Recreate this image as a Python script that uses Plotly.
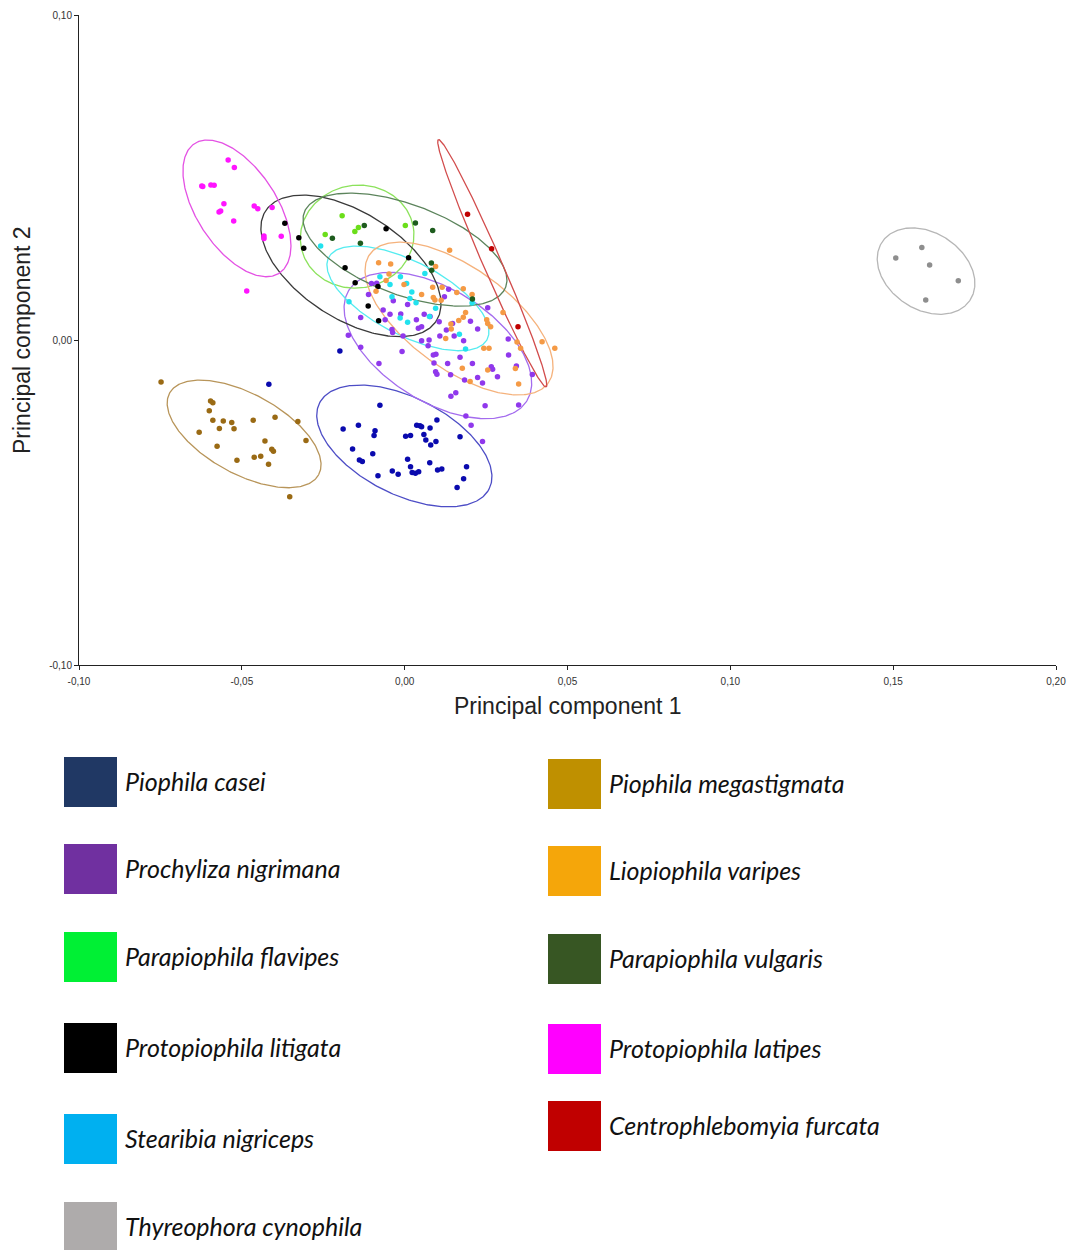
import numpy as np
import plotly.graph_objects as go

# ---------------- data (PC1, PC2 scores) ----------------
casei_x = [-0.0199,-0.0417,-0.0076,-0.0189,-0.0142,-0.0091,-0.0094,-0.0160,-0.0139,-0.0130,-0.0098,-0.0082,-0.0038,-0.0020,0.0003,0.0018,0.0009,0.0018,0.0023,0.0033,0.0043,0.0037,0.0047,0.0052,0.0059,0.0065,0.0080,0.0096,0.0078,0.0099,0.0077,0.0101,0.0114,0.0170,0.0190,0.0181,0.0161]
casei_y = [-0.0034,-0.0136,-0.0201,-0.0274,-0.0262,-0.0279,-0.0294,-0.0335,-0.0369,-0.0374,-0.0350,-0.0418,-0.0403,-0.0413,-0.0296,-0.0294,-0.0367,-0.0390,-0.0408,-0.0410,-0.0405,-0.0262,-0.0264,-0.0267,-0.0291,-0.0308,-0.0323,-0.0312,-0.0271,-0.0246,-0.0378,-0.0400,-0.0397,-0.0298,-0.0390,-0.0427,-0.0454]

prochyliza_x = [-0.0102,-0.0086,-0.0111,-0.0035,-0.0066,-0.0045,-0.0012,-0.0135,-0.0173,-0.0135,-0.0079,0.0009,0.0036,0.0060,-0.0060,-0.0039,-0.0037,-0.0005,-0.0008,0.0042,0.0052,0.0078,0.0106,0.0135,0.0122,0.0255,0.0147,0.0202,0.0224,0.0128,0.0108,0.0152,0.0181,0.0052,0.0075,0.0072,0.0096,0.0088,0.0090,0.0095,0.0099,0.0132,0.0170,0.0208,0.0141,0.0184,0.0224,0.0239,0.0266,0.0270,0.0285,0.0319,0.0343,0.0318,0.0392,0.0157,0.0142,0.0247,0.0188,0.0350,0.0204,0.0239]
prochyliza_y = [0.0174,0.0175,0.0140,0.0121,0.0092,0.0079,0.0080,0.0069,0.0015,-0.0022,-0.0072,0.0109,0.0062,0.0079,0.0062,0.0032,0.0023,0.0012,-0.0035,0.0036,0.0041,0.0072,0.0056,0.0156,0.0133,0.0099,0.0051,0.0058,0.0034,0.0031,0.0012,0.0012,-0.0002,-0.0002,0.0000,-0.0018,-0.0044,-0.0046,-0.0071,-0.0098,-0.0105,-0.0072,-0.0053,-0.0072,-0.0107,-0.0123,-0.0115,-0.0132,-0.0082,-0.0090,-0.0113,-0.0046,-0.0080,0.0003,-0.0106,-0.0162,-0.0173,-0.0202,-0.0234,-0.0200,-0.0262,-0.0312]

flavipes_x = [-0.0192,-0.0244,-0.0153,-0.0142,0.0002]
flavipes_y = [0.0382,0.0325,0.0334,0.0346,0.0352]

litigata_x = [-0.0368,-0.0325,-0.0310,-0.0057,-0.0183,0.0012,-0.0152,-0.0112,-0.0080,-0.0082]
litigata_y = [0.0359,0.0315,0.0282,0.0342,0.0222,0.0253,0.0176,0.0105,0.0059,0.0165]

stearibia_x = [-0.0258,-0.0076,-0.0013,0.0062,-0.0045,0.0006,0.0022,-0.0171,-0.0039,0.0016,0.0035,0.0095,0.0076,-0.0014,0.0009,0.0168,0.0187,0.0207]
stearibia_y = [0.0289,0.0195,0.0195,0.0205,0.0171,0.0174,0.0148,0.0118,0.0133,0.0128,0.0115,0.0098,0.0072,0.0068,0.0055,0.0018,-0.0028,0.0114]

thyreophora_x = [0.1588,0.1508,0.1612,0.1700,0.1600]
thyreophora_y = [0.0285,0.0252,0.0231,0.0182,0.0123]

megastigmata_x = [-0.0748,-0.0596,-0.0589,-0.0600,-0.0589,-0.0557,-0.0531,-0.0569,-0.0524,-0.0631,-0.0465,-0.0398,-0.0328,-0.0303,-0.0429,-0.0576,-0.0408,-0.0403,-0.0515,-0.0462,-0.0442,-0.0418,-0.0353]
megastigmata_y = [-0.0129,-0.0188,-0.0193,-0.0218,-0.0247,-0.0249,-0.0254,-0.0272,-0.0273,-0.0284,-0.0247,-0.0238,-0.0251,-0.0309,-0.0311,-0.0327,-0.0336,-0.0342,-0.0370,-0.0361,-0.0358,-0.0382,-0.0482]

varipes_x = [0.0138,-0.0080,-0.0043,0.0095,-0.0048,-0.0057,-0.0088,-0.0002,0.0086,0.0115,0.0052,0.0088,0.0093,0.0112,0.0180,0.0207,0.0160,0.0187,0.0180,0.0166,0.0142,0.0143,0.0126,0.0252,0.0255,0.0264,0.0302,0.0243,0.0259,0.0345,0.0356,0.0422,0.0461,0.0177,0.0201,0.0255,0.0340,0.0350]
varipes_y = [0.0276,0.0238,0.0234,0.0226,0.0203,0.0183,0.0150,0.0171,0.0162,0.0162,0.0140,0.0131,0.0123,0.0122,0.0158,0.0140,0.0146,0.0085,0.0070,0.0060,0.0049,0.0034,0.0005,0.0062,0.0051,0.0041,0.0085,-0.0025,-0.0025,-0.0006,-0.0025,-0.0005,-0.0025,-0.0087,-0.0128,-0.0092,-0.0088,-0.0135]

vulgaris_x = [-0.0124,-0.0222,-0.0136,0.0033,0.0086,0.0082,0.0083,0.0208]
vulgaris_y = [0.0352,0.0313,0.0298,0.0360,0.0337,0.0237,0.0215,0.0126]

latipes_x = [-0.0542,-0.0523,-0.0623,-0.0620,-0.0595,-0.0585,-0.0555,-0.0570,-0.0565,-0.0525,-0.0462,-0.0451,-0.0407,-0.0432,-0.0432,-0.0379,-0.0485]
latipes_y = [0.0554,0.0531,0.0474,0.0472,0.0477,0.0476,0.0419,0.0394,0.0397,0.0366,0.0412,0.0404,0.0408,0.0320,0.0312,0.0319,0.0151]

furcata_x = [0.0193,0.0267,0.0348]
furcata_y = [0.0387,0.0281,0.0041]

# ellipse parameters per species: centre x, centre y, semi-major, semi-minor, angle (deg)
species = ["Piophila casei", "Prochyliza nigrimana", "Parapiophila flavipes",
           "Protopiophila litigata", "Stearibia nigriceps", "Thyreophora cynophila",
           "Piophila megastigmata", "Liopiophila varipes", "Parapiophila vulgaris",
           "Protopiophila latipes", "Centrophlebomyia furcata"]
ell_cx = [-0.0001, 0.0102, -0.0146, -0.0165, 0.0010, 0.1601, -0.0493, 0.0167, 0.0001, -0.0515, 0.0269]
ell_cy = [-0.0326, -0.0017, 0.0318, 0.0228, 0.0128, 0.0212, -0.0289, 0.0066, 0.0278, 0.0405, 0.0236]
ell_a = [0.0292, 0.0322, 0.0175, 0.0312, 0.0274, 0.0162, 0.0261, 0.0338, 0.0330, 0.0238, 0.0415]
ell_b = [0.0149, 0.0173, 0.0158, 0.0163, 0.0113, 0.0118, 0.0123, 0.0156, 0.0139, 0.0123, 0.0028]
ell_ang = [-26.9, -32.0, 10.0, -32.9, -27.4, -33.5, -28.8, -35.9, -20.4, -56.9, -66.5]

xs = [casei_x, prochyliza_x, flavipes_x, litigata_x, stearibia_x, thyreophora_x,
      megastigmata_x, varipes_x, vulgaris_x, latipes_x, furcata_x]
ys = [casei_y, prochyliza_y, flavipes_y, litigata_y, stearibia_y, thyreophora_y,
      megastigmata_y, varipes_y, vulgaris_y, latipes_y, furcata_y]

x_ticks = [-0.10, -0.05, 0.00, 0.05, 0.10, 0.15, 0.20]
x_tick_text = ["-0,10", "-0,05", "0,00", "0,05", "0,10", "0,15", "0,20"]
y_ticks = [-0.10, 0.00, 0.10]
y_tick_text = ["-0,10", "0,00", "0,10"]

# ---------------- styles ----------------
point_colors = ["#0A0AAE", "#9038EC", "#6BDE1A", "#000000", "#22E2EE", "#8E8E8E",
                "#9A6A14", "#F59A45", "#1E5C1E", "#FF14FF", "#C00000"]
ellipse_colors = ["#4D4DC6", "#A46CEE", "#8CE25C", "#3A3A3A", "#55ECF0", "#B6B6B6",
                  "#B8955A", "#F5B27C", "#5C845C", "#E452E4", "#D24C4C"]
legend_colors = ["#203864", "#7030A0", "#00F034", "#000000", "#00B0F0", "#AEABAB",
                 "#BF9000", "#F5A60A", "#375623", "#FF00FF", "#C00000"]

# page geometry (the html body adds an 8 px margin around the figure)
OFF = 8
W, H = 1075 - OFF, 1250 - OFF
PX_L, PX_R, PX_T, PX_B = 79 - OFF, 1056 - OFF, 15 - OFF, 665 - OFF


def px(v):
    return (v - OFF) / W


def py(v):
    return 1 - (v - OFF) / H


fig = go.Figure()

t = np.linspace(0, 2 * np.pi, 300)
for i, name in enumerate(species):
    th = np.deg2rad(ell_ang[i])
    ex = ell_cx[i] + ell_a[i] * np.cos(t) * np.cos(th) - ell_b[i] * np.sin(t) * np.sin(th)
    ey = ell_cy[i] + ell_a[i] * np.cos(t) * np.sin(th) + ell_b[i] * np.sin(t) * np.cos(th)
    fig.add_trace(go.Scatter(x=ex, y=ey, mode="lines",
                             line=dict(color=ellipse_colors[i], width=1.3),
                             hoverinfo="skip", showlegend=False))

for i, name in enumerate(species):
    fig.add_trace(go.Scatter(x=xs[i], y=ys[i], mode="markers", name=name,
                             marker=dict(color=point_colors[i], size=5.5, line=dict(width=0)),
                             showlegend=False))

axis_common = dict(showgrid=False, zeroline=False, showline=True, linecolor="#222",
                   linewidth=1, ticks="outside", ticklen=4, tickcolor="#222",
                   automargin=False,
                   tickfont=dict(family="Liberation Sans, Arial", size=10, color="#333"))

fig.update_xaxes(range=[-0.10, 0.20], tickvals=x_ticks, ticktext=x_tick_text,
                 domain=[PX_L / W, PX_R / W], ticklabelstandoff=3, **axis_common)
fig.update_yaxes(range=[-0.10, 0.10], tickvals=y_ticks, ticktext=y_tick_text,
                 domain=[1 - PX_B / H, 1 - PX_T / H], **axis_common)

annotations = [
    dict(text="Principal component 1", x=px(567.5), y=py(706),
         xref="paper", yref="paper", showarrow=False, xanchor="center", yanchor="middle",
         font=dict(family="Liberation Sans, Arial", size=23, color="#222")),
    dict(text="Principal component 2", x=px(22), y=py(340), textangle=-90,
         xref="paper", yref="paper", showarrow=False, xanchor="center", yanchor="middle",
         font=dict(family="Liberation Sans, Arial", size=23, color="#222")),
]

# custom legend: two columns
legend_left_x = [64, 548]
legend_rows = [[757, 844, 932, 1023, 1114, 1202], [759, 846, 934, 1024, 1101]]
legend_order = [[0, 1, 2, 3, 4, 5], [6, 7, 8, 9, 10]]
SQ_W, SQ_H = 53, 50
shapes = []
for col in range(2):
    for r, idx in enumerate(legend_order[col]):
        x0 = legend_left_x[col]
        y0 = legend_rows[col][r]
        shapes.append(dict(type="rect", xref="paper", yref="paper",
                           x0=px(x0), x1=px(x0 + SQ_W),
                           y0=py(y0), y1=py(y0 + SQ_H),
                           fillcolor=legend_colors[idx], line=dict(width=0)))
        annotations.append(dict(text="<i>" + species[idx] + "</i>",
                                x=px(x0 + SQ_W + 6), y=py(y0 + SQ_H / 2 - 1),
                                xref="paper", yref="paper", showarrow=False,
                                xanchor="left", yanchor="middle",
                                font=dict(family="Lato, Open Sans", size=25, color="#111")))

fig.update_layout(template="none", width=W, height=H, autosize=False,
                  margin=dict(l=0, r=0, t=0, b=0, pad=0),
                  plot_bgcolor="white", paper_bgcolor="white",
                  shapes=shapes, annotations=annotations, showlegend=False)

fig.write_html("out.html")
